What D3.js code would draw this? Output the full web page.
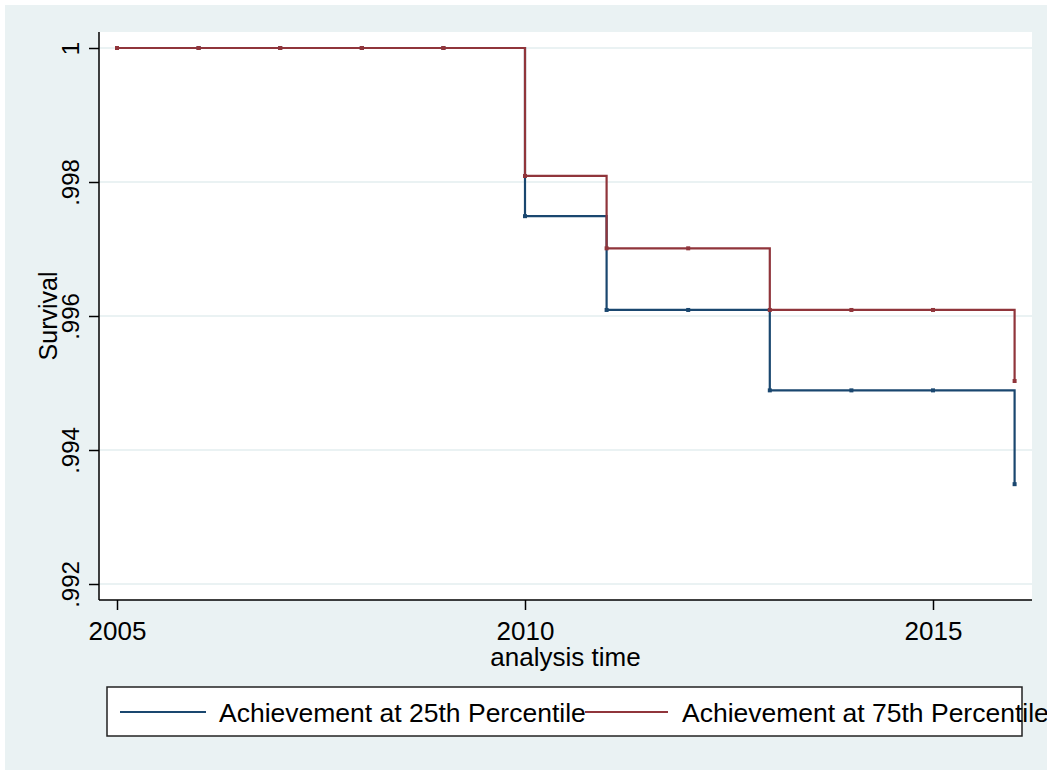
<!DOCTYPE html>
<meta charset="utf-8">
<style>
    body { margin: 0; background: #fff; }
    text { font-family: "Liberation Sans", Arial, sans-serif; fill: #000; }
    .grid line { stroke: #eaf2f3; stroke-width: 2px; }
    .axis path, .axis line { stroke: #000; stroke-width: 1.5px; }
</style>
<svg width="1047" height="770"></svg>
<script src="https://d3js.org/d3.v7.min.js"></script>
<script>
    // analysis time (years)
    var years = [2005, 2006, 2007, 2008, 2009, 2010, 2011, 2012, 2013, 2014, 2015, 2016];
    // Kaplan-Meier survival estimates
    var surv25 = [1, 1, 1, 1, 1, 0.99749, 0.99609, 0.99609, 0.99489, 0.99489, 0.99489, 0.99349];
    var surv75 = [1, 1, 1, 1, 1, 0.99809, 0.99701, 0.99701, 0.99609, 0.99609, 0.99609, 0.99503];
    var seriesNames = ["Achievement at 25th Percentile", "Achievement at 75th Percentile"];
    var seriesColors = ["#1a476f", "#90353b"];
    var xTicks = [2005, 2010, 2015];
    var yTicks = [0.992, 0.994, 0.996, 0.998, 1];

    var svg = d3.select("svg");

    // outer Stata-like background
    svg.append("rect")
        .attr("x", 5).attr("y", 5)
        .attr("width", 1042).attr("height", 765)
        .attr("fill", "#eaf2f3");

    var plot = {left: 99, right: 1032, top: 32, bottom: 600};

    var x = d3.scaleLinear().domain([2005, 2015]).range([117, 933]);
    var y = d3.scaleLinear().domain([0.992, 1]).range([584, 48]);

    svg.append("rect")
        .attr("x", plot.left).attr("y", plot.top)
        .attr("width", plot.right - plot.left)
        .attr("height", plot.bottom - plot.top)
        .attr("fill", "#fff");

    // gridlines
    svg.append("g").attr("class", "grid")
        .selectAll("line")
        .data(yTicks)
        .enter().append("line")
        .attr("x1", plot.left).attr("x2", plot.right)
        .attr("y1", function(d) { return y(d); })
        .attr("y2", function(d) { return y(d); });

    // series
    var series = [surv25, surv75];
    var line = d3.line()
        .x(function(d, i) { return x(years[i]); })
        .y(function(d) { return y(d); })
        .curve(d3.curveStepAfter);

    series.forEach(function(s, k) {
        svg.append("path")
            .datum(s)
            .attr("fill", "none")
            .attr("stroke", seriesColors[k])
            .attr("stroke-width", 2.2)
            .attr("d", line);

        svg.append("g").selectAll("rect")
            .data(s)
            .enter().append("rect")
            .attr("x", function(d, i) { return x(years[i]) - 2; })
            .attr("y", function(d) { return y(d) - 2; })
            .attr("width", 4).attr("height", 4)
            .attr("fill", seriesColors[k]);
    });

    // axes
    var yAxis = svg.append("g").attr("class", "axis")
        .attr("transform", "translate(" + plot.left + ",0)")
        .call(d3.axisLeft(y).tickValues(yTicks).tickSize(10).tickSizeOuter(0)
            .tickFormat(function(d) { return d === 1 ? "1" : d3.format(".3f")(d).replace(/^0/, ""); }));
    yAxis.select(".domain").attr("d", "M0," + plot.top + "V" + plot.bottom);
    yAxis.selectAll(".tick text")
        .attr("x", null).attr("dy", null)
        .attr("transform", "translate(-20,0) rotate(-90)")
        .attr("text-anchor", "middle")
        .style("font-size", "24px");

    var xAxis = svg.append("g").attr("class", "axis")
        .attr("transform", "translate(0," + plot.bottom + ")")
        .call(d3.axisBottom(x).tickValues(xTicks).tickSize(10).tickSizeOuter(0).tickFormat(d3.format("d")));
    xAxis.select(".domain").attr("d", "M" + plot.left + ",0H" + plot.right);
    xAxis.selectAll(".tick text")
        .attr("y", 40).attr("dy", null)
        .style("font-size", "26px");
    svg.selectAll(".axis").attr("font-family", null).attr("font-size", null);

    // axis titles
    svg.append("text")
        .attr("transform", "translate(57," + (plot.top + plot.bottom) / 2 + ") rotate(-90)")
        .attr("text-anchor", "middle")
        .style("font-size", "25px")
        .text("Survival");

    svg.append("text")
        .attr("x", (plot.left + plot.right) / 2).attr("y", 666)
        .attr("text-anchor", "middle")
        .style("font-size", "26px")
        .text("analysis time");

    // legend
    svg.append("rect")
        .attr("x", 107).attr("y", 687)
        .attr("width", 915).attr("height", 49)
        .attr("fill", "#fff")
        .attr("stroke", "#222").attr("stroke-width", 1.5);

    var keyStart = [120, 585], keyEnd = [206, 668], textStart = [219, 682];
    seriesNames.forEach(function(name, k) {
        svg.append("line")
            .attr("x1", keyStart[k]).attr("x2", keyEnd[k])
            .attr("y1", 712).attr("y2", 712)
            .attr("stroke", seriesColors[k]).attr("stroke-width", 2.2);
        svg.append("text")
            .attr("x", textStart[k]).attr("y", 722)
            .style("font-size", "26.5px")
            .text(name);
    });
</script>
